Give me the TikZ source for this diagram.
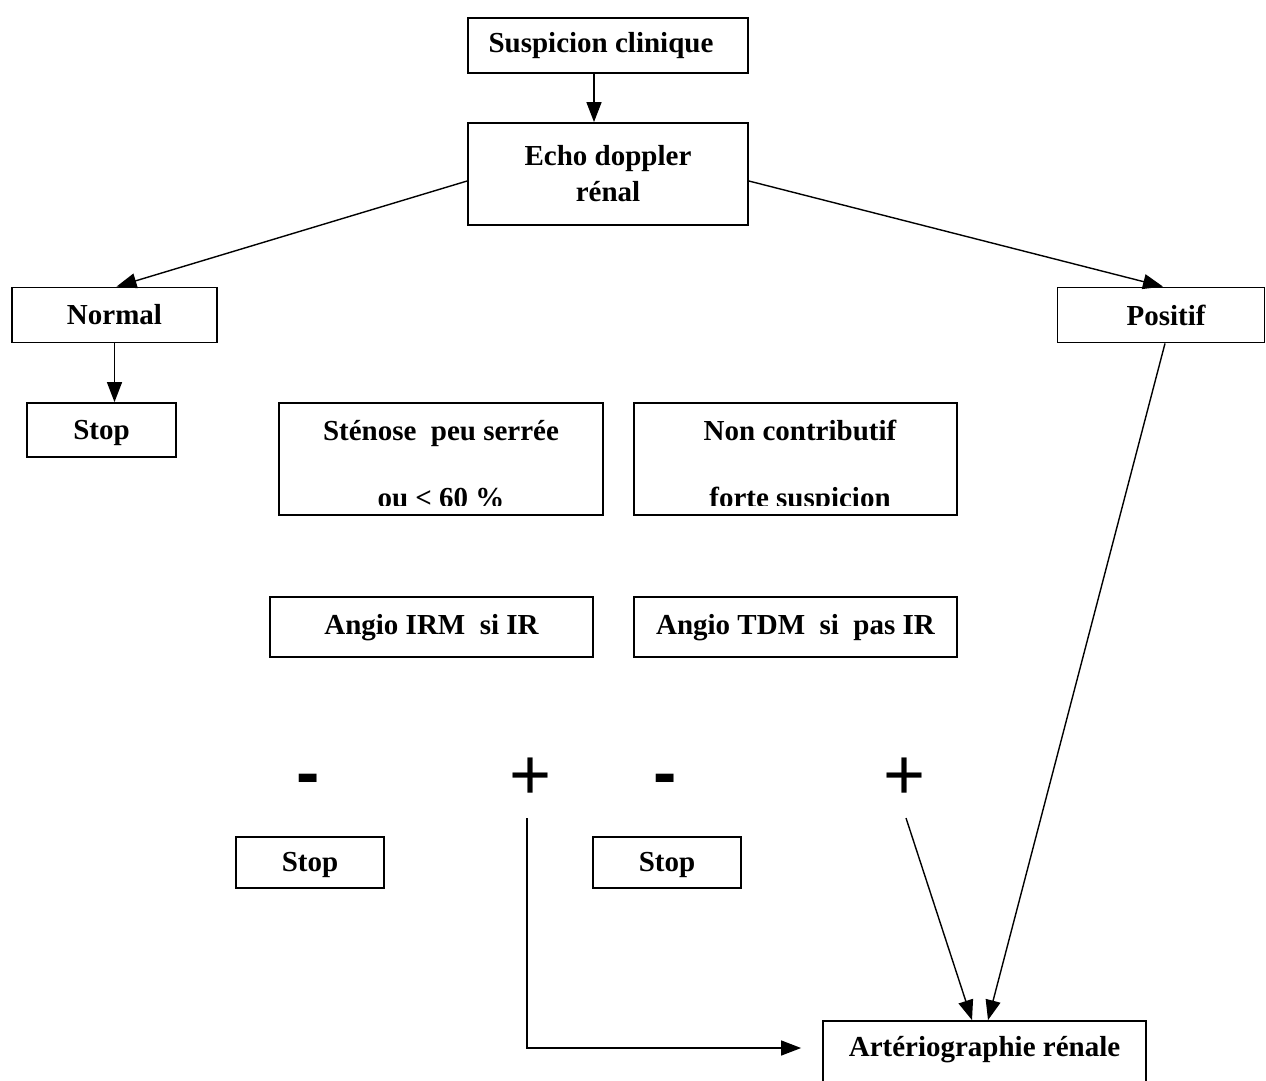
\documentclass[tikz,border=0pt]{standalone}
\usepackage{fontspec}
\setmainfont{Liberation Serif}
\newfontfamily\signfont{Liberation Sans}
\usetikzlibrary{arrows.meta}
\tikzset{
  box/.style={draw, line width=1.8pt, rectangle, inner sep=0pt, align=center,
    font=\fontsize{29}{36}\selectfont\bfseries},
  lbl/.style={inner sep=0pt, font=\fontsize{29}{36}\selectfont\bfseries},
  conn/.style={line width=1.4pt, -{Triangle[length=20pt,width=15pt]}},
  minussign/.style={inner sep=0pt, font=\fontsize{70}{70}\selectfont\signfont\bfseries},
  plussign/.style={inner sep=0pt, font=\fontsize{72}{72}\selectfont\signfont},
}
\begin{document}
\begin{tikzpicture}[x=1pt, y=-1pt]
\useasboundingbox (0,0) rectangle (1266,1080);
\fill[white] (0,0) rectangle (1266,1080);

\node[box, minimum width=280pt, minimum height=55pt] (sc) at (608,45.5) {Suspicion clinique\hspace*{14pt}};
\node[box, minimum width=280pt, minimum height=102pt] (echo) at (608,174) {Echo doppler\\rénal};
\node[box, minimum width=205pt, minimum height=55pt] (normal) at (114.5,315) {Normal};
\node[box, minimum width=207pt, minimum height=55pt] (positif) at (1161,315) {\hspace*{10pt}Positif};
\node[box, minimum width=149pt, minimum height=54pt] (stopa) at (101.5,430) {};
\node[lbl, anchor=base] (stopal) at (101.5,439) {Stop};

\node[box, minimum width=324pt, minimum height=112pt] (sten) at (441,459) {};
\node[box, minimum width=323pt, minimum height=112pt] (nonc) at (795.5,459) {};
\node[lbl, anchor=base] (stena) at (441,440) {Sténose \ peu serrée};
\node[lbl, anchor=base] (nonca) at (800,440) {Non contributif};
\begin{scope}
\clip (282,480) rectangle (1000,505);
\node[lbl, anchor=base] (stenb) at (441,507) {ou < 60 \%};
\node[lbl, anchor=base] (noncb) at (800,507) {forte suspicion};
\end{scope}

\node[box, minimum width=323pt, minimum height=60pt] (irm) at (431.5,627) {};
\node[lbl, anchor=base] (irml) at (431.5,634) {Angio IRM \ si IR};
\node[box, minimum width=323pt, minimum height=60pt] (tdm) at (795.5,627) {};
\node[lbl, anchor=base] (tdml) at (795.5,634) {Angio TDM \ si \ pas IR};

\node[minussign] (m1) at (308.5,785) {-};
\node[plussign] (p1) at (530.5,779) {+};
\node[minussign] (m2) at (665,785) {-};
\node[plussign] (p2) at (905,779) {+};

\node[box, minimum width=148pt, minimum height=51pt] (stopb) at (310,862.5) {};
\node[lbl, anchor=base] (stopbl) at (310,871) {Stop};
\node[box, minimum width=148pt, minimum height=51pt] (stopc) at (667,862.5) {};
\node[lbl, anchor=base] (stopcl) at (667,871) {Stop};

\node[box, minimum width=323pt, minimum height=74pt] (art) at (984.5,1058) {};
\node[lbl] (artl) at (984.5,1050) {Artériographie rénale};

\coordinate (p1s) at (527,818);
\coordinate (p2s) at (906,818);

\draw[conn] ([xshift=-14pt]sc.south) -- ([xshift=-14pt]echo.north);
\draw[conn] ([yshift=-7pt]echo.west) -- ([xshift=2pt]normal.north);
\draw[conn] ([yshift=-7pt]echo.east) -- ([xshift=2pt]positif.north);
\draw[conn] (normal.south) -- (normal.south |- stopa.north);
\draw[conn] ([xshift=4pt]positif.south) -- ([xshift=3.5pt]art.north);
\draw[conn] (p2s) -- ([xshift=-12.5pt]art.north);
\draw[conn, shorten >=21pt] (p1s) |- ([yshift=10pt]art.west);
\end{tikzpicture}
\end{document}
